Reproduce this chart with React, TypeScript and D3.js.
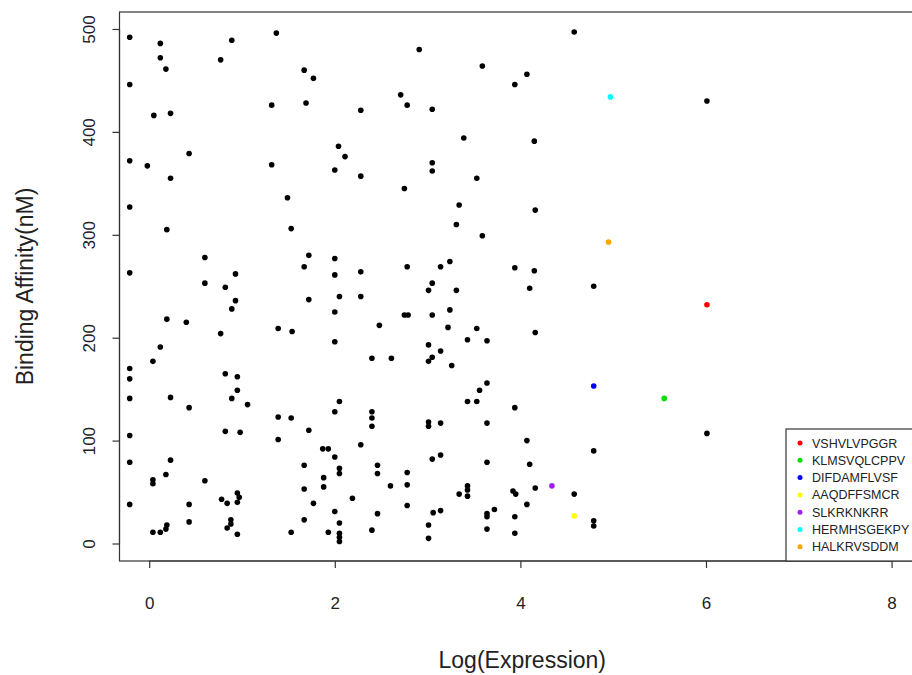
import React, { useRef, useEffect } from "react";
import * as d3 from "d3";

// background peptides: log expression (x) and binding affinity in nM (y)
const logExpression = [
  -0.21, 0.12, 0.89, 0.12, 0.77, 0.18, -0.21, 0.05, 0.23, 0.43, -0.21, -0.02, 0.23,
  1.37, 1.67, 1.77, 1.32, 1.69, 2.28, 2.71, 2.78, 2.04, 2.11, 1.32, 2.0, 2.28, 2.75,
  2.91, 3.59, 4.07, 3.94, 3.05, 3.39, 4.15, 3.05, 3.05, 3.53,
  4.58, 6.01, 4.79, 6.01, 4.79, 4.58, 4.79, 4.79,
  -0.21, 0.19, 0.6, -0.21, 0.93, 0.6, 0.82, 0.93, 0.89, 0.19, 0.4, 0.77, 0.12, 0.04, -0.21, 0.82,
  1.49, 1.53, 1.72, 2.0, 1.67, 2.78, 2.0, 2.28, 1.72, 2.05, 2.28, 2.0, 2.75, 2.79, 2.48, 1.39,
  1.54, 2.0, 2.4, 2.61,
  3.34, 4.16, 3.31, 3.59, 3.14, 3.24, 3.94, 4.15, 4.1, 3.05, 3.01, 3.31, 3.05, 3.24, 3.22, 3.53,
  4.16, 3.43, 3.64, 3.01, 3.14, 3.05, 3.01, 3.26,
  -0.21, 0.95, 0.95, -0.21, 0.23, 0.89, 1.06, 0.43, -0.21, 0.82, 0.98, -0.21, 0.23, 0.18, 0.04,
  0.04, 0.6, 0.78, 0.84, 0.95, 0.97, 0.95, -0.21, 0.43, 0.43, 0.88, 0.88, 0.84, 0.95, 0.19, 0.18,
  0.12, 0.04,
  2.05, 2.0, 2.4, 2.4, 2.4, 1.39, 1.53, 1.72, 1.39, 1.87, 1.93, 2.28, 2.0, 1.67, 2.46, 2.46, 2.05,
  2.05, 1.88, 2.78, 2.78, 2.78, 1.67, 1.88, 2.6, 1.77, 2.19, 2.0, 2.46, 1.67, 2.05, 1.53, 1.93,
  2.05, 2.05, 2.05, 2.4,
  3.64, 3.56, 3.43, 3.53, 3.94, 3.01, 3.01, 3.14, 3.64, 4.07, 3.05, 3.14, 3.64, 4.1, 3.43, 3.43,
  3.43, 3.34, 3.92, 3.95, 4.16, 4.07, 3.06, 3.14, 3.64, 3.64, 3.72, 3.94, 3.01, 3.64, 3.94, 3.01,
];

const bindingAffinity = [
  492, 486, 489, 472, 470, 461, 446, 416, 418, 379, 372, 367, 355,
  496, 460, 452, 426, 428, 421, 436, 426, 386, 376, 368, 363, 357, 345,
  480, 464, 456, 446, 422, 394, 391, 370, 362, 355,
  497, 430, 250, 107, 90, 48, 22, 17,
  327, 305, 278, 263, 262, 253, 249, 236, 228, 218, 215, 204, 191, 177, 170, 165,
  336, 306, 280, 277, 269, 269, 261, 264, 237, 240, 240, 225, 222, 222, 212, 209,
  206, 196, 180, 180,
  329, 324, 310, 299, 269, 274, 268, 265, 248, 253, 246, 246, 222, 227, 210, 209,
  205, 198, 197, 193, 187, 181, 177, 173,
  160, 162, 149, 141, 142, 141, 135, 132, 105, 109, 108, 79, 81, 67, 62,
  58, 61, 43, 39, 49, 45, 40, 38, 38, 21, 23, 19, 15, 9, 18, 14,
  11, 11,
  138, 128, 128, 122, 114, 123, 122, 110, 101, 92, 92, 96, 84, 76, 76, 68, 73,
  68, 64, 69, 57, 37, 53, 55, 56, 39, 44, 31, 29, 23, 20, 11, 11,
  10, 6, 2, 13,
  156, 149, 138, 138, 132, 118, 114, 117, 117, 100, 82, 86, 79, 77, 56, 52,
  46, 48, 51, 48, 54, 38, 30, 32, 29, 26, 33, 26, 18, 14, 10, 5,
];

// highlighted peptides
const peptides = [
  "VSHVLVPGGR",
  "KLMSVQLCPPV",
  "DIFDAMFLVSF",
  "AAQDFFSMCR",
  "SLKRKNKRR",
  "HERMHSGEKPY",
  "HALKRVSDDM",
];
const peptideExpression = [6.01, 5.55, 4.79, 4.58, 4.34, 4.97, 4.95];
const peptideAffinity = [232, 141, 153, 27, 56, 434, 293];
const peptideColors = ["#FF0000", "#00E000", "#0000FF", "#FFFF00", "#A020F0", "#00FFFF", "#FFA500"];

const xTicks = [0, 2, 4, 6, 8];
const yTicks = [0, 100, 200, 300, 400, 500];

const FONT = "'Liberation Sans', Arial, Helvetica, sans-serif";

const App = () => {
  const svgRef = useRef(null);

  useEffect(() => {
    const dimensions = { width: 912, height: 675, left: 119.5, right: 925, top: 12, bottom: 561 };

    const svg = d3.select(svgRef.current);
    svg.selectAll("*").remove();

    svg
      .append("rect")
      .attr("width", dimensions.width)
      .attr("height", dimensions.height)
      .attr("fill", "white");

    // Scales
    const xScale = d3
      .scaleLinear()
      .domain([-0.32, 8.36])
      .range([dimensions.left, dimensions.right]);
    const yScale = d3
      .scaleLinear()
      .domain([-17, 516.5])
      .range([dimensions.bottom, dimensions.top]);

    // Points
    const pts = logExpression.map((x, i) => ({ x, y: bindingAffinity[i] }));
    svg
      .append("g")
      .selectAll("circle")
      .data(pts)
      .join("circle")
      .attr("cx", (d) => xScale(d.x))
      .attr("cy", (d) => yScale(d.y))
      .attr("r", 2.8)
      .attr("fill", "black");

    const highlighted = peptides.map((name, i) => ({
      name,
      x: peptideExpression[i],
      y: peptideAffinity[i],
      color: peptideColors[i],
    }));
    svg
      .append("g")
      .selectAll("circle")
      .data(highlighted)
      .join("circle")
      .attr("cx", (d) => xScale(d.x))
      .attr("cy", (d) => yScale(d.y))
      .attr("r", 2.8)
      .attr("fill", (d) => d.color);

    // Box
    svg
      .append("rect")
      .attr("x", dimensions.left)
      .attr("y", dimensions.top)
      .attr("width", dimensions.right - dimensions.left)
      .attr("height", dimensions.bottom - dimensions.top)
      .attr("fill", "none")
      .attr("stroke", "#333")
      .attr("stroke-width", 1.2);

    // x axis
    const xAxisGroup = svg
      .append("g")
      .attr("transform", `translate(0, ${dimensions.bottom})`)
      .call(d3.axisBottom(xScale).tickValues(xTicks).tickSize(7).tickSizeOuter(0).tickPadding(29));
    xAxisGroup.select(".domain").remove();
    xAxisGroup
      .append("line")
      .attr("x1", xScale(xTicks[0]))
      .attr("x2", xScale(xTicks[xTicks.length - 1]))
      .attr("stroke", "#333")
      .attr("stroke-width", 1.2);
    xAxisGroup.selectAll(".tick line").attr("stroke", "#333").attr("stroke-width", 1.2);
    xAxisGroup
      .selectAll(".tick text")
      .attr("fill", "#222")
      .style("font-size", "17px")
      .style("font-family", FONT);

    // y axis (labels parallel to the axis, like R)
    const yAxisGroup = svg
      .append("g")
      .attr("transform", `translate(${dimensions.left}, 0)`)
      .call(d3.axisLeft(yScale).tickValues(yTicks).tickSize(7).tickSizeOuter(0));
    yAxisGroup.select(".domain").remove();
    yAxisGroup
      .append("line")
      .attr("y1", yScale(yTicks[0]))
      .attr("y2", yScale(yTicks[yTicks.length - 1]))
      .attr("stroke", "#333")
      .attr("stroke-width", 1.2);
    yAxisGroup.selectAll(".tick line").attr("stroke", "#333").attr("stroke-width", 1.2);
    yAxisGroup
      .selectAll(".tick text")
      .attr("x", null)
      .attr("dy", null)
      .attr("transform", "translate(-25, 0) rotate(-90)")
      .attr("text-anchor", "middle")
      .attr("fill", "#222")
      .style("font-size", "17px")
      .style("font-family", FONT);

    // titles
    svg
      .append("text")
      .attr("x", (dimensions.left + dimensions.right) / 2)
      .attr("y", 668)
      .attr("text-anchor", "middle")
      .attr("fill", "#222")
      .style("font-size", "23px")
      .style("font-family", FONT)
      .text("Log(Expression)");

    svg
      .append("text")
      .attr("transform", `translate(33, ${(dimensions.top + dimensions.bottom) / 2}) rotate(-90)`)
      .attr("text-anchor", "middle")
      .attr("fill", "#222")
      .style("font-size", "23px")
      .style("font-family", FONT)
      .text("Binding Affinity(nM)");

    // legend (bottom right)
    const legend = { left: 786, top: 429, row: 17.3 };
    const legendGroup = svg.append("g");
    legendGroup
      .append("rect")
      .attr("x", legend.left)
      .attr("y", legend.top)
      .attr("width", dimensions.right - legend.left)
      .attr("height", dimensions.bottom - legend.top)
      .attr("fill", "white")
      .attr("stroke", "#333")
      .attr("stroke-width", 1.2);

    const rows = legendGroup
      .selectAll("g.row")
      .data(highlighted)
      .join("g")
      .attr("class", "row")
      .attr("transform", (d, i) => `translate(${legend.left}, ${legend.top + 14 + i * legend.row})`);
    rows
      .append("circle")
      .attr("cx", 14)
      .attr("r", 2.5)
      .attr("fill", (d) => d.color);
    rows
      .append("text")
      .attr("x", 26)
      .attr("y", 4.5)
      .attr("fill", "#222")
      .style("font-size", "12.5px")
      .style("font-family", FONT)
      .text((d) => d.name);
  }, []);

  return (
    <svg
      ref={svgRef}
      width={912}
      height={675}
      style={{ position: "absolute", left: 0, top: 0, display: "block" }}
    />
  );
};

export default App;
